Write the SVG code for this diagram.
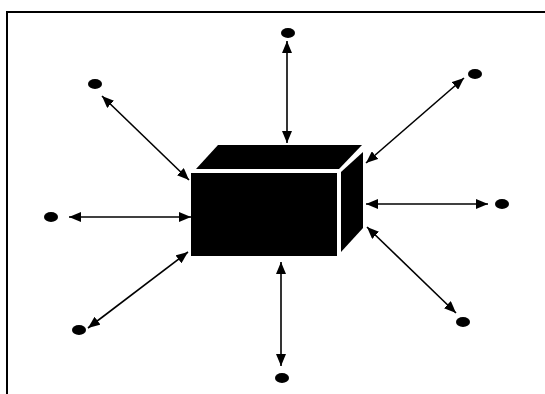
<svg xmlns="http://www.w3.org/2000/svg" width="545" height="394" viewBox="0 0 545 394">
<style>
.frame{fill:none;stroke:#000;stroke-width:2}
.conn{stroke:#000;stroke-width:1.6;fill:none;marker-start:url(#ah);marker-end:url(#ah)}
.dot{fill:#000}
.face{fill:#000}
</style>
<defs>
<marker id="ah" viewBox="0 0 12 10" refX="12" refY="5" markerWidth="12" markerHeight="10" markerUnits="userSpaceOnUse" orient="auto-start-reverse">
<path d="M0,0 L12,5 L0,10 Z" fill="#000"/>
</marker>
</defs>
<rect width="545" height="394" fill="#fff"/>
<path class="frame" d="M7,394 L7,12 L545,12"/>
<g id="box">
<polygon class="face" points="191,173 337,173 337,256 191,256"/>
<polygon class="face" points="196,169 218,145 362,145 339,169"/>
<polygon class="face" points="341,172 363,152 363,228 341,252"/>
</g>
<g id="n-top"><ellipse class="dot" cx="288" cy="33" rx="7" ry="5"/></g>
<g id="n-upleft"><ellipse class="dot" cx="95" cy="84" rx="7" ry="5"/></g>
<g id="n-upright"><ellipse class="dot" cx="475" cy="74" rx="7" ry="5"/></g>
<g id="n-left"><ellipse class="dot" cx="51" cy="217" rx="7" ry="5"/></g>
<g id="n-right"><ellipse class="dot" cx="502" cy="204" rx="7" ry="5"/></g>
<g id="n-lowleft"><ellipse class="dot" cx="79" cy="330" rx="7" ry="5"/></g>
<g id="n-lowright"><ellipse class="dot" cx="463" cy="322" rx="7" ry="5"/></g>
<g id="n-bottom"><ellipse class="dot" cx="282" cy="378" rx="7" ry="5"/></g>
<g id="connectors">
<line class="conn" x1="287" y1="41" x2="287" y2="143"/>
<line class="conn" x1="102" y1="96" x2="189" y2="180"/>
<line class="conn" x1="464" y1="78" x2="366" y2="163"/>
<line class="conn" x1="69" y1="217" x2="191" y2="217"/>
<line class="conn" x1="366" y1="204" x2="488" y2="204"/>
<line class="conn" x1="188" y1="252" x2="88" y2="328"/>
<line class="conn" x1="367" y1="227" x2="456" y2="313"/>
<line class="conn" x1="281" y1="262" x2="281" y2="366"/>
</g>
</svg>
